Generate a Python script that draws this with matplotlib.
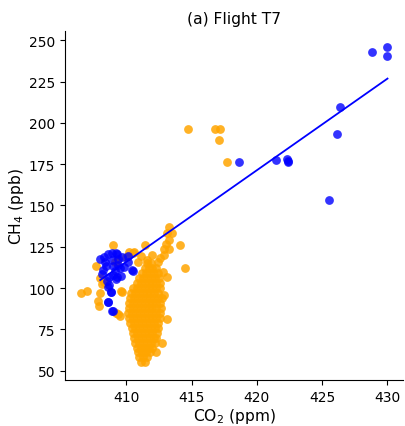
import matplotlib
matplotlib.use("Agg")
import matplotlib.pyplot as plt
import numpy as np

# ---- Orange points (other observations) ----
orange_rows = {
    55: [411.1, 411.4],
    58: [411.0, 411.3, 411.6],
    61: [410.9, 411.2, 411.5, 411.8, 412.25],
    64: [410.8, 411.1, 411.4, 411.7, 412.0],
    67: [410.7, 411.0, 411.3, 411.6, 411.9, 412.2],
    70: [410.6, 410.9, 411.2, 411.5, 411.8, 412.1, 412.3],
    73: [410.5, 410.8, 411.1, 411.4, 411.7, 412.0, 412.35],
    76: [410.4, 410.7, 411.0, 411.3, 411.6, 411.9, 412.2, 412.45],
    79: [410.3, 410.6, 410.9, 411.2, 411.5, 411.8, 412.1, 412.4],
    82: [410.2, 410.5, 410.8, 411.1, 411.4, 411.7, 412.0, 412.3, 412.6],
    85: [410.15, 410.45, 410.75, 411.05, 411.35, 411.65, 411.95, 412.25, 412.55],
    88: [410.2, 410.5, 410.8, 411.1, 411.4, 411.7, 412.0, 412.3, 412.65],
    91: [410.2, 410.5, 410.8, 411.1, 411.4, 411.7, 412.0, 412.3, 412.6],
    94: [410.3, 410.6, 410.9, 411.2, 411.5, 411.8, 412.1, 412.4, 412.7],
    97: [410.35, 410.65, 410.95, 411.25, 411.55, 411.85, 412.15, 412.45],
    100: [410.5, 410.8, 411.1, 411.4, 411.7, 412.0, 412.3, 412.55],
    103: [410.8, 411.1, 411.4, 411.7, 412.0, 412.3, 412.6],
    106: [411.0, 411.3, 411.6, 411.9, 412.2, 412.5],
    109: [411.2, 411.5, 411.8, 412.1, 412.4],
    112: [411.4, 411.7, 412.0, 412.3],
    115: [411.6, 411.9],
}
orange_extra_x = [417.2, 416.8, 414.7, 417.1, 417.7,
                  413.3, 413.5, 413.1, 413.3, 413.0, 414.1, 414.5, 413.3, 413.1,
                  411.4, 409.0, 412.0, 411.1, 410.2, 410.6, 412.9, 412.9, 412.4, 413.1,
                  406.55, 407.0, 407.7, 408.1, 407.95, 407.8, 407.9, 408.0,
                  409.2, 409.7, 409.4, 409.1, 409.3, 408.3, 409.6, 409.5, 410.5, 411.6,
                  412.6, 412.8, 410.0, 410.9, 412.9, 412.7]
orange_extra_y = [196.0, 196.0, 196.0, 189.4, 176.3,
                  137.0, 133.6, 133.6, 129.2, 126.5, 126.1, 112.4, 123.5, 81.2,
                  126.1, 126.1, 119.9, 119.5, 122.1, 122.1, 123.5, 119.9, 115.5, 106.4,
                  97.3, 98.3, 113.6, 102.4, 97.3, 92.3, 89.3, 105.8,
                  84.6, 97.7, 84.2, 115.5, 116.5, 103.4, 98.3, 83.2, 121.5, 117.0,
                  118.0, 110.0, 118.5, 116.0, 96.0, 67.0]

orange_x = [x for y, xs in orange_rows.items() for x in xs] + orange_extra_x
orange_y = [y for y, xs in orange_rows.items() for x in xs] + orange_extra_y

# ---- Blue points (plume observations) ----
blue_x = [430.0, 430.0, 428.8, 426.4, 426.1, 425.5, 422.4, 422.3, 422.4, 421.5, 418.6,
          408.1, 408.3, 408.6, 408.9, 409.2, 408.46, 409.0, 409.5, 409.85, 410.5,
          408.7, 409.2, 409.6, 408.6, 408.8, 408.6, 408.97, 409.35, 409.1,
          410.1, 410.4, 410.1, 409.3, 409.3, 408.58, 408.9, 408.8, 408.7,
          408.4, 408.2, 408.9, 409.4, 409.0, 408.5, 409.7, 408.0]
blue_y = [245.8, 240.7, 242.7, 209.7, 193.4, 153.1, 177.1, 178.3, 176.5, 177.7, 176.5,
          108.4, 118.5, 120.6, 121.0, 121.5, 113.4, 113.4, 112.4, 112.5, 110.4,
          106.4, 105.4, 107.4, 100.4, 97.4, 91.3, 86.3, 117.5, 110.4,
          119.5, 111.0, 115.5, 120.5, 106.4, 91.7, 85.9, 97.7, 101.8,
          116.0, 111.0, 117.0, 114.0, 108.0, 104.0, 119.0, 117.5]

# ---- Regression line ----
line_x = [408.0, 430.0]
line_y = [104.8, 226.8]

xticks = [410, 415, 420, 425, 430]
yticks = [50, 75, 100, 125, 150, 175, 200, 225, 250]

fig = plt.figure(figsize=(4.06, 4.27), dpi=100)
ax = fig.add_axes([0.160, 0.108, 0.833, 0.817])

ax.scatter(orange_x, orange_y, s=40, color="orange", alpha=0.85, linewidths=0, zorder=2)
ax.scatter(blue_x, blue_y, s=40, color="blue", alpha=0.8, linewidths=0, zorder=3)
ax.plot(line_x, line_y, color="blue", lw=1.3, zorder=4)

ax.set_xlim(405.3, 431.2)
ax.set_ylim(44.4, 255.6)
ax.set_xticks(xticks)
ax.set_yticks(yticks)
ax.tick_params(labelsize=10)
ax.spines["top"].set_visible(False)
ax.spines["right"].set_visible(False)
ax.set_xlabel(r"CO$_2$ (ppm)", fontsize=11.2, labelpad=2)
ax.set_ylabel(r"CH$_4$ (ppb)", fontsize=11.2, labelpad=2)
ax.set_title("(a) Flight T7", fontsize=11.2, pad=6)

fig.savefig("out.png", dpi=100)
